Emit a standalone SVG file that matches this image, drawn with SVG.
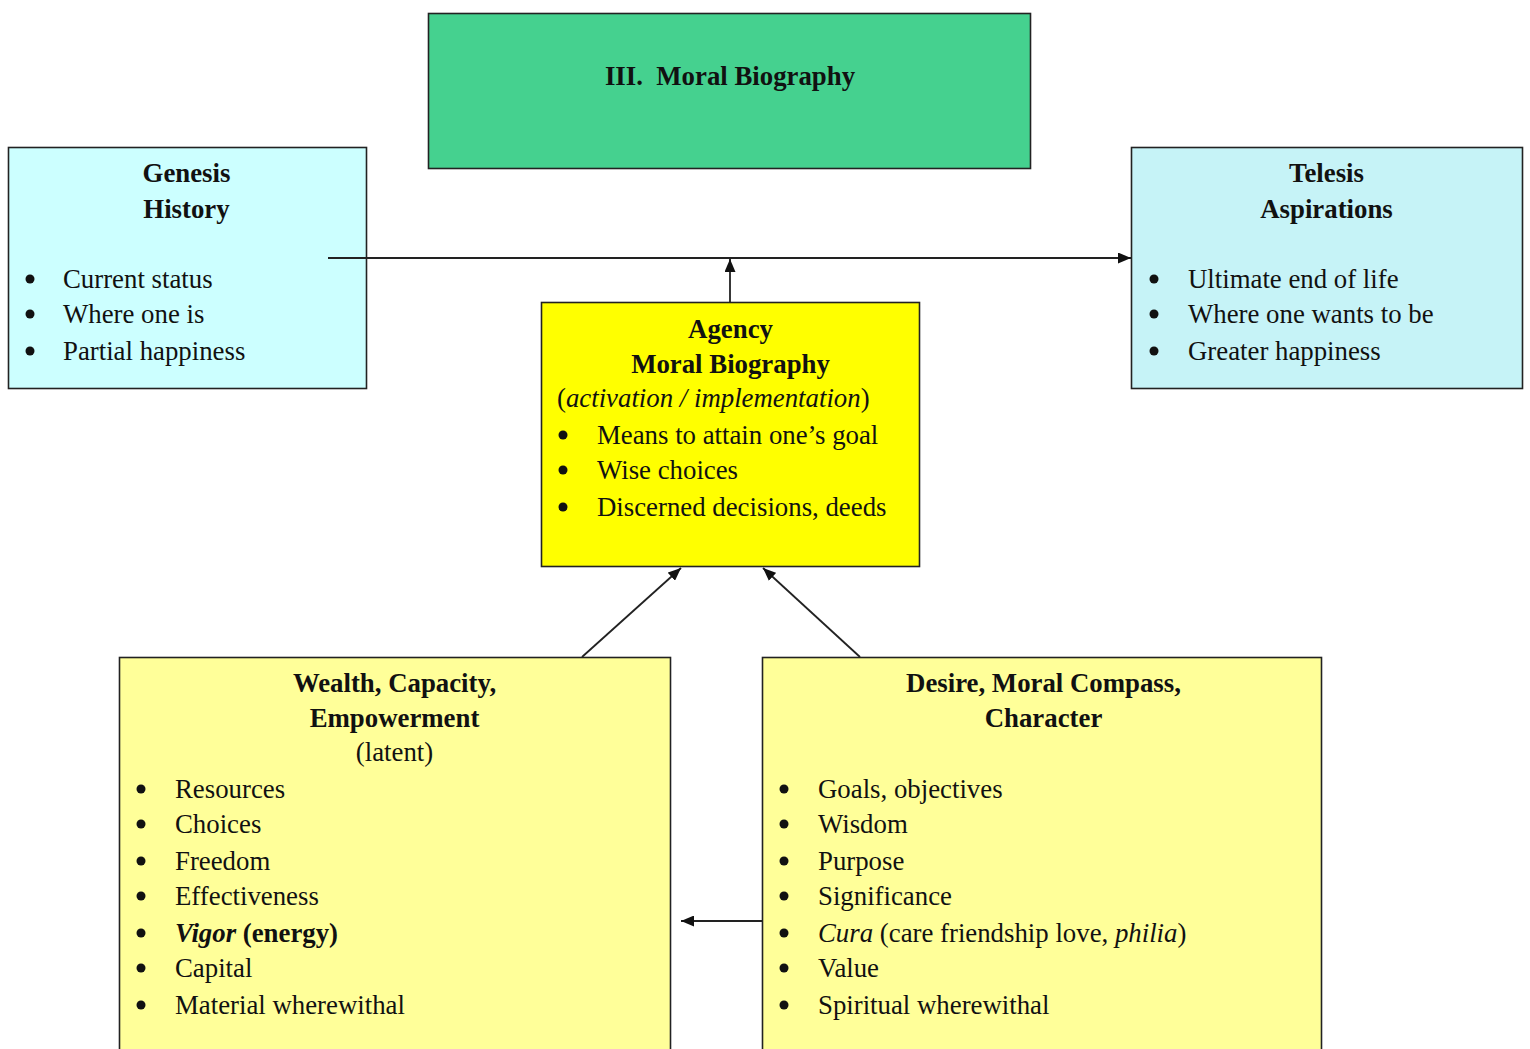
<svg xmlns="http://www.w3.org/2000/svg" width="1530" height="1049" viewBox="0 0 1530 1049">
<style>
.box{stroke:#222;stroke-width:1.6}
.t{font-family:"Liberation Serif","Times New Roman",serif;font-size:26.8px;fill:#111}
.b{font-weight:bold}
.c{text-anchor:middle}
.conn{stroke:#222;stroke-width:1.8;fill:none}
.dot{fill:#111}
</style>
<defs>
<marker id="ah" viewBox="0 0 13 11" refX="13" refY="5.5" markerWidth="13" markerHeight="11" markerUnits="userSpaceOnUse" orient="auto">
<path d="M0,0 L13,5.5 L0,11 Z" fill="#111"/>
</marker>
</defs>
<rect width="1530" height="1049" fill="#fff"/>

<g id="moral-biography">
<rect class="box" x="428.5" y="13.5" width="602" height="155" fill="#45D18F"/>
<text class="t b c" x="730" y="85" xml:space="preserve">III.  Moral Biography</text>
</g>

<g id="genesis">
<rect class="box" x="8.5" y="147.5" width="358" height="241" fill="#CCFFFF"/>
<text class="t b c" x="186.5" y="182">Genesis</text>
<text class="t b c" x="186.5" y="218">History</text>
<circle class="dot" cx="30" cy="279" r="4.5"/><text class="t" x="63" y="288">Current status</text>
<circle class="dot" cx="30" cy="314" r="4.5"/><text class="t" x="63" y="323">Where one is</text>
<circle class="dot" cx="30" cy="351" r="4.5"/><text class="t" x="63" y="360">Partial happiness</text>
</g>

<g id="telesis">
<rect class="box" x="1131.5" y="147.5" width="391" height="241" fill="#C6F3F7"/>
<text class="t b c" x="1326.5" y="182">Telesis</text>
<text class="t b c" x="1326.5" y="218">Aspirations</text>
<circle class="dot" cx="1154" cy="279" r="4.5"/><text class="t" x="1188" y="288">Ultimate end of life</text>
<circle class="dot" cx="1154" cy="314" r="4.5"/><text class="t" x="1188" y="323">Where one wants to be</text>
<circle class="dot" cx="1154" cy="351" r="4.5"/><text class="t" x="1188" y="360">Greater happiness</text>
</g>

<g id="agency">
<rect class="box" x="541.5" y="302.5" width="378" height="264" fill="#FFFF00"/>
<text class="t b c" x="730.5" y="338">Agency</text>
<text class="t b c" x="730.5" y="373">Moral Biography</text>
<text class="t" x="557" y="407">(<tspan font-style="italic">activation / implementation</tspan>)</text>
<circle class="dot" cx="563" cy="435" r="4.5"/><text class="t" x="597" y="444">Means to attain one’s goal</text>
<circle class="dot" cx="563" cy="470" r="4.5"/><text class="t" x="597" y="479">Wise choices</text>
<circle class="dot" cx="563" cy="507" r="4.5"/><text class="t" x="597" y="516">Discerned decisions, deeds</text>
</g>

<g id="wealth">
<rect class="box" x="119.5" y="657.5" width="551" height="410" fill="#FFFF99"/>
<text class="t b c" x="394.5" y="692">Wealth, Capacity,</text>
<text class="t b c" x="394.5" y="727">Empowerment</text>
<text class="t c" x="394.5" y="761">(latent)</text>
<circle class="dot" cx="141" cy="789" r="4.5"/><text class="t" x="175" y="798">Resources</text>
<circle class="dot" cx="141" cy="824" r="4.5"/><text class="t" x="175" y="833">Choices</text>
<circle class="dot" cx="141" cy="861" r="4.5"/><text class="t" x="175" y="870">Freedom</text>
<circle class="dot" cx="141" cy="896" r="4.5"/><text class="t" x="175" y="905">Effectiveness</text>
<circle class="dot" cx="141" cy="933" r="4.5"/><text class="t" x="175" y="942"><tspan font-weight="bold" font-style="italic">Vigor</tspan> <tspan font-weight="bold">(energy)</tspan></text>
<circle class="dot" cx="141" cy="968" r="4.5"/><text class="t" x="175" y="977">Capital</text>
<circle class="dot" cx="141" cy="1005" r="4.5"/><text class="t" x="175" y="1014">Material wherewithal</text>
</g>

<g id="desire">
<rect class="box" x="762.5" y="657.5" width="559" height="410" fill="#FFFF99"/>
<text class="t b c" x="1043.5" y="692">Desire, Moral Compass,</text>
<text class="t b c" x="1043.5" y="727">Character</text>
<circle class="dot" cx="784" cy="789" r="4.5"/><text class="t" x="818" y="798">Goals, objectives</text>
<circle class="dot" cx="784" cy="824" r="4.5"/><text class="t" x="818" y="833">Wisdom</text>
<circle class="dot" cx="784" cy="861" r="4.5"/><text class="t" x="818" y="870">Purpose</text>
<circle class="dot" cx="784" cy="896" r="4.5"/><text class="t" x="818" y="905">Significance</text>
<circle class="dot" cx="784" cy="933" r="4.5"/><text class="t" x="818" y="942"><tspan font-style="italic">Cura</tspan> (care friendship love, <tspan font-style="italic">philia</tspan>)</text>
<circle class="dot" cx="784" cy="968" r="4.5"/><text class="t" x="818" y="977">Value</text>
<circle class="dot" cx="784" cy="1005" r="4.5"/><text class="t" x="818" y="1014">Spiritual wherewithal</text>
</g>

<g id="connectors">
<line class="conn" x1="328" y1="258" x2="1131" y2="258" marker-end="url(#ah)"/>
<line class="conn" x1="730" y1="302" x2="730" y2="259" marker-end="url(#ah)"/>
<line class="conn" x1="582" y1="657" x2="681" y2="568" marker-end="url(#ah)"/>
<line class="conn" x1="860" y1="657" x2="763" y2="568" marker-end="url(#ah)"/>
<line class="conn" x1="762" y1="921" x2="681" y2="921" marker-end="url(#ah)"/>
</g>
</svg>
